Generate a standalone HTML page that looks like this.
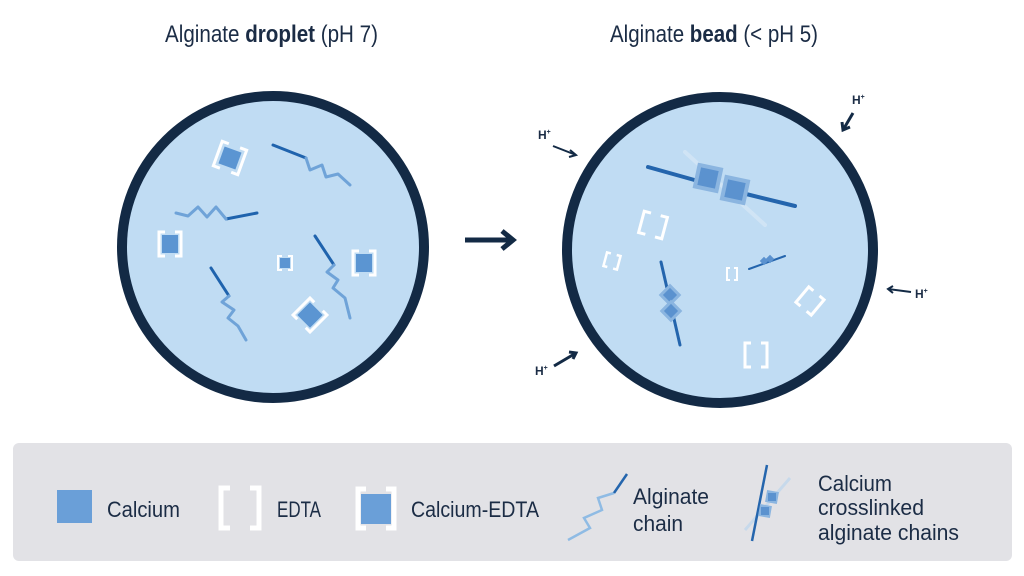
<!DOCTYPE html>
<html><head><meta charset="utf-8"><style>
html,body{margin:0;padding:0;background:#fff;width:1024px;height:576px;overflow:hidden}
svg{display:block}
text{font-family:"Liberation Sans",sans-serif;fill:#1b2c45}
</style></head><body>
<svg width="1024" height="576" viewBox="0 0 1024 576" xmlns="http://www.w3.org/2000/svg">
<defs>
<linearGradient id="fadeA" x1="0" y1="0" x2="1" y2="0"><stop offset="0" stop-color="#1f63ad"/><stop offset="1" stop-color="#8fbbe4"/></linearGradient>
</defs>
<text x="165" y="42" font-size="24" textLength="213" lengthAdjust="spacingAndGlyphs">Alginate <tspan font-weight="bold">droplet</tspan> (pH 7)</text>
<text x="610" y="42" font-size="24" textLength="208" lengthAdjust="spacingAndGlyphs">Alginate <tspan font-weight="bold">bead</tspan> (&lt; pH 5)</text>

<circle cx="273" cy="247" r="151" fill="#c0dcf3" stroke="#132a45" stroke-width="10"/>
<circle cx="720" cy="250" r="153" fill="#c0dcf3" stroke="#132a45" stroke-width="10"/>

<line x1="465" y1="240" x2="510" y2="240" stroke="#132a45" stroke-width="5"/>
<polyline points="502,231 513,240 502,249" fill="none" stroke="#132a45" stroke-width="5"/>

<g fill="none" stroke-linecap="round" stroke-linejoin="round" stroke-width="3">
<line x1="273" y1="145" x2="306" y2="158" stroke="#1f63ad"/>
<polyline points="306,158 310,170 322,165 326,177 338,174 350,185" stroke="#6fa3d8"/>
<line x1="257" y1="213" x2="226" y2="219" stroke="#1f63ad"/>
<polyline points="226,219 216,207 207,217 198,207 188,216 176,213" stroke="#6fa3d8"/>
<line x1="211" y1="268" x2="229" y2="296" stroke="#1f63ad"/>
<polyline points="229,296 222,302 234,310 228,318 238,326 246,340" stroke="#6fa3d8"/>
<line x1="315" y1="236" x2="334" y2="265" stroke="#1f63ad"/>
<polyline points="334,265 327,272 338,280 333,288 345,298 350,318" stroke="#6fa3d8"/>
</g>

<!-- left squares with brackets -->
<g fill="none" stroke="#fff" stroke-width="3">
<g transform="translate(230,158) rotate(20)"><path d="M-6,-13H-13V13H-6M6,-13H13V13H6"/></g>
<g transform="translate(170,244)"><path d="M-5,-12H-11V12H-5M5,-12H11V12H5"/></g>
<g transform="translate(285,263)" stroke-width="2"><path d="M-3,-7H-7V7H-3M3,-7H7V7H3"/></g>
<g transform="translate(364,263)"><path d="M-5,-12H-11V12H-5M5,-12H11V12H5"/></g>
<g transform="translate(310,315) rotate(45)"><path d="M-6,-12H-12V12H-6M6,-12H12V12H6"/></g>
</g>
<g fill="#5b95d2">
<rect x="-9" y="-9" width="18" height="18" transform="translate(230,158) rotate(20)"/>
<rect x="162" y="235" width="16" height="18"/>
<rect x="280" y="258" width="10" height="10"/>
<rect x="356" y="254" width="16" height="18"/>
<rect x="-9" y="-9" width="18" height="18" transform="translate(310,315) rotate(45)"/>
</g>

<!-- right: crosslinks -->
<g stroke-linecap="round">
<line x1="685" y1="152" x2="765" y2="225" stroke="#d8e8f6" stroke-width="4" opacity="0.7"/>
<line x1="648" y1="167" x2="698" y2="181" stroke="#2465ad" stroke-width="4"/>
<line x1="742" y1="193" x2="795" y2="206" stroke="#2465ad" stroke-width="4"/>
<g transform="translate(708,178) rotate(12)"><rect x="-13" y="-13" width="26" height="26" fill="#8bb5e0"/><rect x="-9" y="-9" width="18" height="18" fill="#5b92cf"/></g>
<g transform="translate(735,190) rotate(12)"><rect x="-13" y="-13" width="26" height="26" fill="#8bb5e0"/><rect x="-9" y="-9" width="18" height="18" fill="#5b92cf"/></g>
<line x1="661" y1="262" x2="680" y2="345" stroke="#2465ad" stroke-width="3"/>
<g transform="translate(670,295) rotate(45)"><rect x="-8" y="-8" width="16" height="16" fill="#8bb5e0"/><rect x="-5" y="-5" width="10" height="10" fill="#5b92cf"/></g>
<g transform="translate(671,311) rotate(45)"><rect x="-8" y="-8" width="16" height="16" fill="#8bb5e0"/><rect x="-5" y="-5" width="10" height="10" fill="#5b92cf"/></g>
<line x1="749" y1="269" x2="785" y2="256" stroke="#2465ad" stroke-width="2"/>
<rect x="761" y="258" width="6" height="6" fill="#5b92cf" transform="rotate(45 764 261)"/>
<rect x="767" y="256" width="6" height="6" fill="#5b92cf" transform="rotate(45 770 259)"/>
</g>
<g fill="none" stroke="#fff" stroke-width="3">
<g transform="translate(653,225) rotate(15)"><path d="M-5,-11H-12V11H-5M5,-11H12V11H5"/></g>
<g transform="translate(612,261) rotate(15)" stroke-width="2.5"><path d="M-3,-7H-7V7H-3M3,-7H7V7H3"/></g>
<g transform="translate(732,274)" stroke-width="2"><path d="M-2,-6H-5V6H-2M2,-6H5V6H2"/></g>
<g transform="translate(810,301) rotate(40)"><path d="M-4,-10H-10V10H-4M4,-10H10V10H4"/></g>
<g transform="translate(756,355)"><path d="M-5,-12H-11V12H-5M5,-12H11V12H5"/></g>
</g>

<g font-weight="bold" font-size="12">
<text x="538" y="139">H<tspan font-size="7" dy="-5">+</tspan></text>
<text x="852" y="104">H<tspan font-size="7" dy="-5">+</tspan></text>
<text x="915" y="298">H<tspan font-size="7" dy="-5">+</tspan></text>
<text x="535" y="375">H<tspan font-size="7" dy="-5">+</tspan></text>
</g>
<g stroke="#132a45" fill="none" stroke-width="2">
<line x1="553" y1="146" x2="576" y2="155"/><polyline points="570,150 576,155 569,157"/>
<line x1="853" y1="113" x2="843" y2="130" stroke-width="3"/><polyline points="842,122 843,130 850,127" stroke-width="3"/>
<line x1="911" y1="292" x2="888" y2="289"/><polyline points="893,286 888,289 893,293"/>
<line x1="554" y1="366" x2="576" y2="353" stroke-width="3"/><polyline points="569,352 576,353 573,359" stroke-width="3"/>
</g>

<!-- legend -->
<rect x="13" y="443" width="999" height="118" rx="6" fill="#e2e2e6"/>
<rect x="57" y="490" width="35" height="33" fill="#6a9fd8"/>
<text x="107" y="517" font-size="22" textLength="73" lengthAdjust="spacingAndGlyphs">Calcium</text>
<path d="M230,488H221V528H230M250,488H259V528H250" fill="none" stroke="#fff" stroke-width="5"/>
<text x="277" y="517" font-size="22" textLength="44" lengthAdjust="spacingAndGlyphs">EDTA</text>
<path d="M366,489H358V528H366M386,489H394V528H386" fill="none" stroke="#fff" stroke-width="5"/>
<rect x="361" y="494" width="30" height="30" fill="#6a9fd8"/>
<text x="411" y="517" font-size="22" textLength="128" lengthAdjust="spacingAndGlyphs">Calcium-EDTA</text>
<polyline points="568,540 590,528 584,518 602,510 598,498 614,493" fill="none" stroke="#8fbbe4" stroke-width="2.5"/>
<line x1="614" y1="493" x2="627" y2="474" stroke="#2465ad" stroke-width="2.5"/>
<text x="633" y="504" font-size="22" textLength="76" lengthAdjust="spacingAndGlyphs">Alginate</text>
<text x="633" y="531" font-size="22" textLength="50" lengthAdjust="spacingAndGlyphs">chain</text>
<line x1="745" y1="530" x2="790" y2="478" stroke="#bcd6ee" stroke-width="3" opacity="0.7"/>
<line x1="752" y1="541" x2="767" y2="465" stroke="#2465ad" stroke-width="2.5"/>
<rect x="766" y="491" width="12" height="12" fill="#8bb5e0" transform="rotate(10 772 497)"/>
<rect x="768" y="493" width="8" height="8" fill="#5b92cf"/>
<rect x="759" y="505" width="12" height="12" fill="#8bb5e0" transform="rotate(10 765 511)"/>
<rect x="761" y="507" width="8" height="8" fill="#5b92cf"/>
<text x="818" y="491" font-size="22" textLength="74" lengthAdjust="spacingAndGlyphs">Calcium</text>
<text x="818" y="515" font-size="22" textLength="106" lengthAdjust="spacingAndGlyphs">crosslinked</text>
<text x="818" y="540" font-size="22" textLength="141" lengthAdjust="spacingAndGlyphs">alginate chains</text>
</svg>
</body></html>
